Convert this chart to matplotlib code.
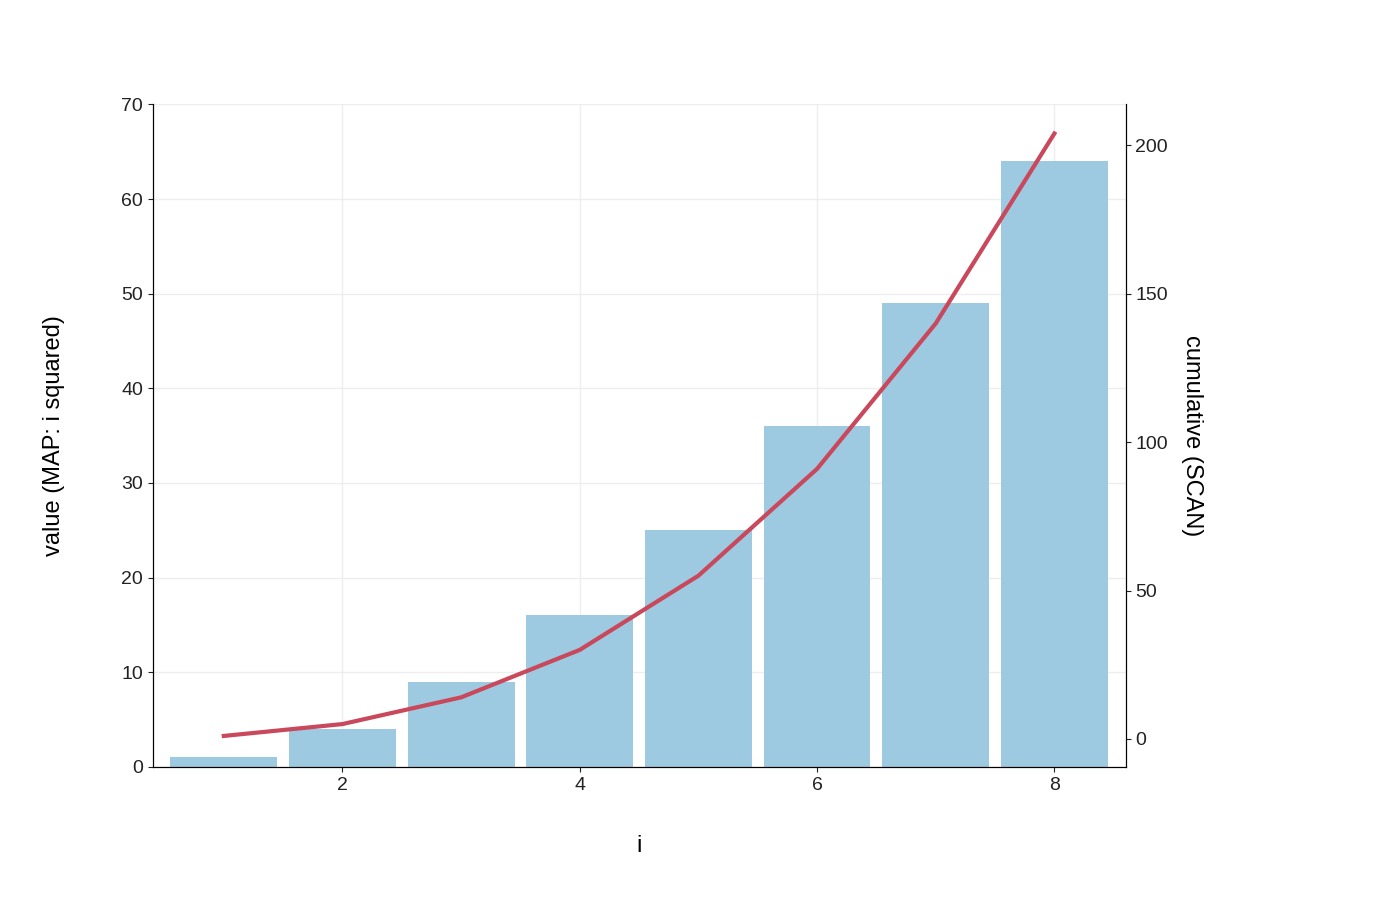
import matplotlib
matplotlib.use("Agg")
import matplotlib.pyplot as plt

plt.rcParams['font.family'] = ['Liberation Sans', 'DejaVu Sans']

i_vals = [1, 2, 3, 4, 5, 6, 7, 8]
squared = [1, 4, 9, 16, 25, 36, 49, 64]
cumulative = [1, 5, 14, 30, 55, 91, 140, 204]

fig = plt.figure(figsize=(14, 9), dpi=100)
ax = fig.add_axes([0.109, 0.148, 0.695, 0.736])
ax.bar(i_vals, squared, width=0.9, color='#9ecae1', zorder=2)
ax.set_xlim(0.4, 8.6)
ax.set_ylim(0, 70)
ax.set_xticks([2, 4, 6, 8])
ax.set_yticks(range(0, 71, 10))
ax.grid(True, color='#eeeeee', linewidth=1, zorder=0)
ax.spines['top'].set_visible(False)
ax.tick_params(labelsize=14, colors='#222222')
ax.set_xlabel('i', fontsize=17, labelpad=30)
ax.set_ylabel('value (MAP: i squared)', fontsize=17, labelpad=40)

ax2 = ax.twinx()
ax2.plot(i_vals, cumulative, color='#c9485b', linewidth=3, zorder=3)
ax2.set_ylim(-9.4, 213.8)
ax2.set_yticks([0, 50, 100, 150, 200])
ax2.spines['top'].set_visible(False)
ax2.tick_params(labelsize=14, colors='#222222')
ax2.set_ylabel('cumulative (SCAN)', fontsize=17, rotation=270, labelpad=25)

fig.savefig('out.png', dpi=100)
